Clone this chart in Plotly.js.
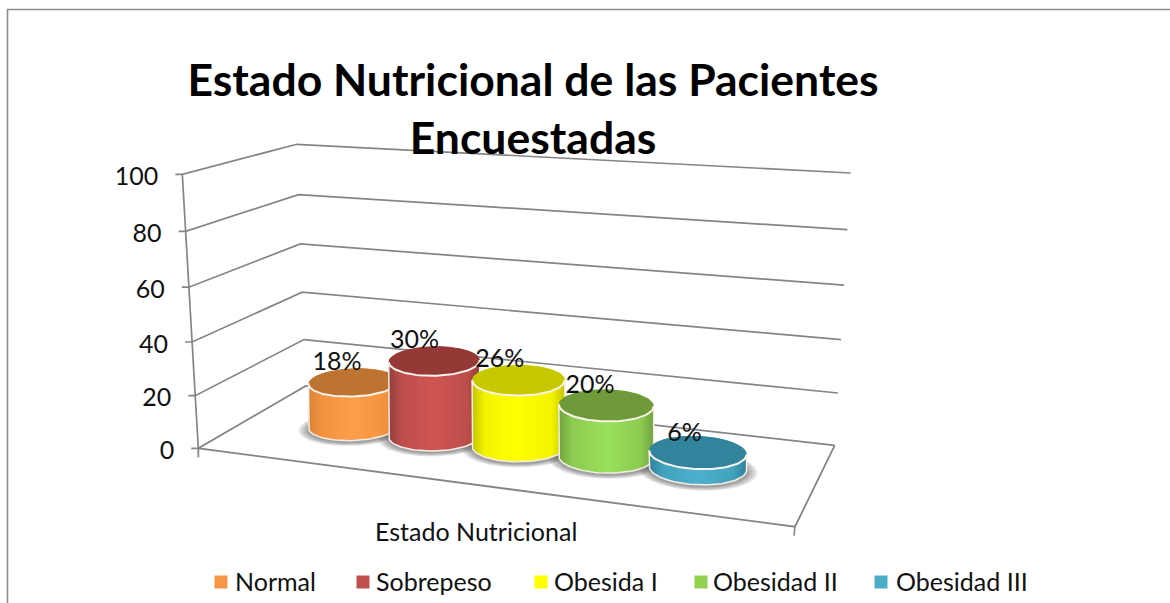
<!DOCTYPE html>
<html>
<head>
<meta charset="utf-8">
<script src="https://cdn.plot.ly/plotly-3.0.1.min.js"></script>
<style>html,body{margin:0;padding:0;background:#fff;overflow:hidden}#chart{width:1170px;height:603px}</style>
</head>
<body>
<div id="chart"></div>
<script>
// ---- data ----
const categories = ["Normal", "Sobrepeso", "Obesida I", "Obesidad II", "Obesidad III"];
const values = [18, 30, 26, 20, 6];
const valueLabels = ["18%", "30%", "26%", "20%", "6%"];
const yTicks = [0, 20, 40, 60, 80, 100];
const chartTitle = "Estado Nutricional de las Pacientes<br>Encuestadas";
const axisTitle = "Estado Nutricional";

// ---- styles ----
const edgeColors   = ["#d88238", "#93403d", "#c4c400", "#72a23e", "#2f819b"];
const midColors    = ["#f2923f", "#bd4e4b", "#f4f400", "#8ccb50", "#42a2bd"];
const centerColors = ["#ff9e4a", "#cf5552", "#ffff00", "#9ae05a", "#4cb0cc"];
const topColors    = ["#bd7431", "#953937", "#c8c800", "#6f9a3a", "#32849c"];
const swatchColors = ["#f79646", "#c0504d", "#ffff00", "#92d050", "#4bacc6"];
const FONT = 'Lato,"Liberation Sans",Arial,sans-serif';
const GRID = "#858585";

// ---- oblique projection of the 3D box onto the page ----
const floorCorners = [[198.3,448.3],[795,526.7],[834.7,445.3],[305.7,386]];   // FL FR BR BL
const ceilCorners  = [[182.3,174.3],[820,222],[850.7,173],[296.7,144.3]];
function homography(q){
  const [x0,y0]=q[0],[x1,y1]=q[1],[x2,y2]=q[2],[x3,y3]=q[3];
  const dx1=x1-x2,dx2=x3-x2,sx=x0-x1+x2-x3,dy1=y1-y2,dy2=y3-y2,sy=y0-y1+y2-y3;
  const den=dx1*dy2-dx2*dy1, g=(sx*dy2-dx2*sy)/den, h=(dx1*sy-sx*dy1)/den;
  const a=x1-x0+g*x1,b=x3-x0+h*x3,d=y1-y0+g*y1,e=y3-y0+h*y3;
  return (u,v)=>{const w=g*u+h*v+1;return [(a*u+b*v+x0)/w,(d*u+e*v+y0)/w];};
}
const floorH=homography(floorCorners), ceilH=homography(ceilCorners);
function project(u,v,val){
  const t=val/100, f=t*(0.95+0.05*t);
  const p=floorH(u,v), q=ceilH(u,v);
  return [p[0]+(q[0]-p[0])*f, p[1]+(q[1]-p[1])*f];
}

// category slots along the floor
const U0=0.1925, DU=0.1541, V0=0.512, RU=0.078, RV=0.205, LIFT=0.97, N=96;
// a cylinder keeps vertical sides: its lid is the base ring lifted by the value
function ring(i,val,scale){
  const uc=U0+DU*i, lift=LIFT*(project(uc,V0,val)[1]-project(uc,V0,0)[1]);
  const pts=[];
  for(let k=0;k<N;k++){
    const t=2*Math.PI*k/N;
    const p=project(uc+RU*scale*Math.cos(t),V0+RV*scale*Math.sin(t),0);
    pts.push([p[0],p[1]+lift]);
  }
  return pts;
}
function arc(pts,from,to){const o=[];let k=from;while(true){o.push(pts[k]);if(k===to)break;k=(k+1)%N;}return o;}
function extremes(pts){let a=0,b=0;pts.forEach((p,k)=>{if(p[0]<pts[a][0])a=k;if(p[0]>pts[b][0])b=k;});return [a,b];}
const xs=p=>p.map(q=>q[0]), ys=p=>p.map(q=>q[1]);

const traces=[];
const add=t=>traces.push(Object.assign({type:"scatter",hoverinfo:"skip",showlegend:false,cliponaxis:false},t));
const line=(pts,color,width)=>add({x:xs(pts),y:ys(pts),mode:"lines",line:{color:color,width:width,shape:"linear"}});

// frame of the chart area
line([[7.5,603],[7.5,9.5],[1170,9.5]],"#8c8c8c",1.6);

// walls and floor
yTicks.forEach(h=>{
  const a=project(0,0,h),b=project(0,1,h),c=project(1,1,h);
  line([[a[0]-7,a[1]],a,b,c],GRID,1.7);
});
line([project(0,0,0),project(0,0,100)],GRID,1.7);
const fl=project(0,0,0),fr=project(1,0,0),br=project(1,1,0);
line([[fl[0],fl[1]+9],fl,fr,br],GRID,1.8);
line([fr,[fr[0]-1,fr[1]+9]],GRID,1.6);

// soft shadows on the floor
values.forEach((v,i)=>{
  [1.22,1.17,1.12,1.07,1.03].forEach(s=>{
    const pts=ring(i,0,s).map(p=>[p[0],p[1]+2]);
    pts.push(pts[0]);
    add({x:xs(pts),y:ys(pts),mode:"lines",fill:"toself",fillcolor:"rgba(70,70,70,0.13)",line:{width:0}});
  });
});

// cylinders, left to right
values.forEach((v,i)=>{
  const base=ring(i,0,1), top=ring(i,v,1);
  const [bl,br2]=extremes(base), [tl,tr]=extremes(top);
  const baseFront=arc(base,bl,br2), topBack=arc(top,tr,tl), topFront=arc(top,tl,tr);
  const body=baseFront.concat(topBack); body.push(body[0]);
  add({x:xs(body),y:ys(body),mode:"lines",fill:"toself",line:{width:0},
       fillcolor:centerColors[i],
       fillgradient:{type:"horizontal",colorscale:[[0,edgeColors[i]],[0.14,midColors[i]],[0.5,centerColors[i]],[0.86,midColors[i]],[1,edgeColors[i]]]}});
  const lid=top.concat([top[0]]);
  add({x:xs(lid),y:ys(lid),mode:"lines",fill:"toself",fillcolor:topColors[i],line:{width:0}});
  line([top[tl]].concat(baseFront,[top[tr]]),"#f4efe6",1.5);
  line(topFront,"#f8f4ec",2);
});

// value labels
const tops=values.map((v,i)=>project(U0+DU*i,V0,v));
add({x:tops.map(p=>p[0]-13),y:tops.map(p=>p[1]-17),text:valueLabels,mode:"text",textposition:"middle center",
     textfont:{family:FONT,size:25,color:"#111"}});

// y tick labels
const tickPts=yTicks.map(h=>project(0,0,h));
add({x:tickPts.map(p=>p[0]-24),y:tickPts.map(p=>p[1]+4.5),text:yTicks.map(String),mode:"text",textposition:"middle left",
     textfont:{family:FONT,size:25,color:"#111"}});

// legend row
const legendSwatchX=[221,363,541,701,881], legendTextX=[235,376,554,713,896], LEGEND_Y=582;
categories.forEach((c,i)=>{
  add({x:[legendSwatchX[i]],y:[LEGEND_Y],mode:"markers",marker:{symbol:"square",size:13,color:swatchColors[i]}});
  add({x:[legendTextX[i]],y:[LEGEND_Y+2.5],text:[c],mode:"text",textposition:"middle right",textfont:{family:FONT,size:25,color:"#111"}});
});

const layout={
  width:1170,height:603,margin:{l:0,r:0,t:0,b:0},
  paper_bgcolor:"#fff",plot_bgcolor:"#fff",showlegend:false,
  xaxis:{range:[0,1170],visible:false,fixedrange:true},
  yaxis:{range:[603,0],visible:false,fixedrange:true},
  title:{text:chartTitle,x:533/1170,xanchor:"center",y:1-96/603,yanchor:"top",
         font:{family:FONT,size:44.5,color:"#000",weight:700}},
  annotations:[{text:axisTitle,xref:"x",yref:"y",x:476,y:531,showarrow:false,xanchor:"center",yanchor:"middle",
                font:{family:FONT,size:25,color:"#111"}}]
};
Plotly.newPlot("chart",traces,layout,{displayModeBar:false,staticPlot:true});
</script>
</body>
</html>
